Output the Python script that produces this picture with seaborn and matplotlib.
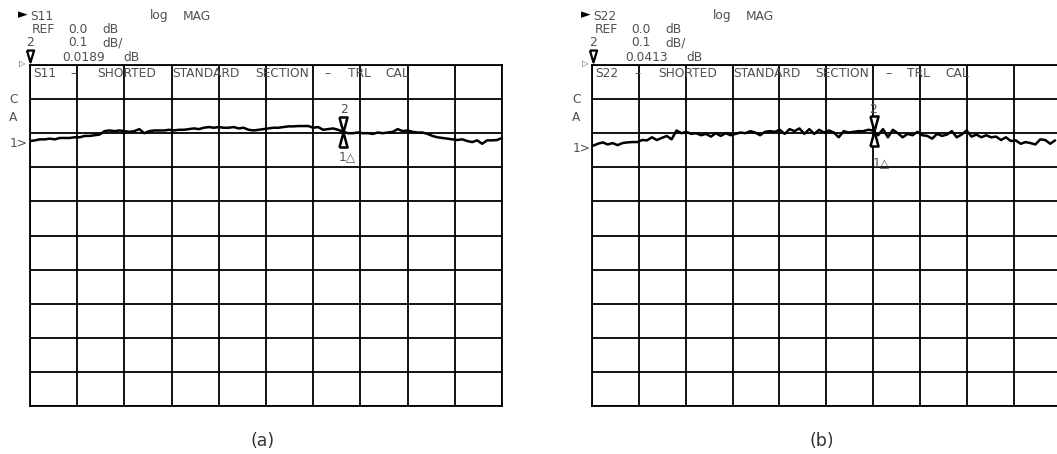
import numpy as np
import pandas as pd
import matplotlib
matplotlib.use("Agg")
import matplotlib.pyplot as plt
from matplotlib.lines import Line2D
import seaborn as sns

# ---------------- data ----------------
# S11 trace, dB, sampled uniformly across the 10-division sweep
s11_db = [
    -0.023, -0.021, -0.018, -0.018, -0.016, -0.018, -0.014, -0.014, -0.014, -0.012,
    -0.012, -0.008, -0.008, -0.006, -0.004,
    0.006, 0.008, 0.006, 0.008, 0.006, 0.004, 0.006, 0.012, 0.000, 0.006,
    0.008, 0.008, 0.008, 0.010, 0.008, 0.010,
    0.010, 0.012, 0.014, 0.012, 0.016, 0.018, 0.016, 0.018, 0.016, 0.016,
    0.018, 0.014, 0.016, 0.010, 0.008, 0.010,
    0.012, 0.014, 0.016, 0.016, 0.018, 0.020, 0.020, 0.021, 0.021, 0.021,
    0.016, 0.018, 0.010, 0.012, 0.014, 0.010,
    0.004, 0.000, 0.000, 0.002, 0.000, 0.000, -0.002, 0.002, 0.000, 0.002,
    0.004, 0.012, 0.006, 0.008, 0.004, 0.002,
    0.002, -0.002, -0.008, -0.012, -0.014, -0.016, -0.018, -0.020, -0.018, -0.023,
    -0.026, -0.021, -0.031, -0.021, -0.021, -0.020,
    -0.014,
]
# S22 trace, dB
s22_db = [
    -0.037, -0.031, -0.027, -0.033, -0.029, -0.035, -0.029, -0.027, -0.026, -0.026,
    -0.020, -0.021, -0.012, -0.020, -0.014, -0.008, -0.018, 0.008, 0.000, 0.004,
    -0.002, 0.000, -0.006, -0.002, -0.010, 0.000, -0.008, 0.000, -0.006, -0.002,
    0.002,
    0.000, 0.006, 0.002, -0.006, 0.004, 0.006, 0.004, 0.010, -0.002, 0.012,
    0.006, 0.014, -0.002, 0.012, -0.002, 0.010, 0.002, 0.008, 0.002, -0.012,
    0.006, 0.002, 0.004, 0.006, 0.006, 0.010, 0.008, -0.006, 0.012, -0.012,
    0.010,
    0.000, -0.012, -0.002, -0.006, 0.004, -0.006, -0.008, -0.016, -0.002, -0.008,
    -0.004, 0.006, -0.012, -0.004, 0.008, -0.010, -0.004, -0.012, -0.006, -0.012,
    -0.010, -0.020, -0.012, -0.023, -0.021, -0.031, -0.026, -0.029, -0.033, -0.018,
    -0.020, -0.031, -0.021,
]
sweep_span_a = (0.0, 10.0)     # divisions covered by the S11 samples
sweep_span_b = (0.02, 9.88)    # divisions covered by the S22 samples
grid_db = [-0.8, -0.7, -0.6, -0.5, -0.4, -0.3, -0.2, -0.1, 0.0, 0.1, 0.2]
grid_div = list(range(11))
marker_div_a = 6.64
marker_div_b = 6.01

# ---------------- style ----------------
sns.set_theme(style="white")
plt.rcParams['font.family'] = ['DejaVu Sans']

W, H = 1057, 454
fig = plt.figure(figsize=(W / 100, H / 100), dpi=100)
fig.patch.set_facecolor('white')


def fx(x):
    return x / W


def fy(y):
    return 1 - y / H


TXT = '#505050'
FS = 8.8

down_tri = [(-0.27, 1.0), (0.27, 1.0), (0.0, 0.0), (-0.27, 1.0)]
up_tri = [(-0.27, -1.0), (0.27, -1.0), (0.0, 0.0), (-0.27, -1.0)]
hdr_tri = [(-0.3, 0.5), (0.3, 0.5), (0.0, -0.5), (-0.3, 0.5)]


def make_panel(rect, values, span, mdiv):
    ax = fig.add_axes(rect)
    ax.set_facecolor('white')
    x = np.linspace(span[0], span[1], len(values))
    df = pd.DataFrame({'div': x, 'dB': values})
    sns.lineplot(data=df, x='div', y='dB', ax=ax, color='black', lw=1.8,
                 zorder=3)
    ax.set_xlim(0, 10)
    ax.set_ylim(-0.8, 0.2)
    ax.set_xticks(grid_div)
    ax.set_yticks(grid_db)
    ax.tick_params(length=0, labelbottom=False, labelleft=False)
    ax.grid(True, color='black', lw=1.3)
    ax.set_xlabel('')
    ax.set_ylabel('')
    for s in ax.spines.values():
        s.set_color('black')
        s.set_linewidth(1.3)
    my = np.interp(mdiv, df['div'], df['dB'])
    ax.plot([mdiv], [my], marker=down_tri, ms=21.6, mfc='white', mec='black',
            mew=1.8, ls='none', zorder=5, clip_on=False)
    ax.plot([mdiv], [my], marker=up_tri, ms=21.6, mfc='white', mec='black',
            mew=1.8, ls='none', zorder=5, clip_on=False)
    return ax


ax_a = make_panel([30 / W, 1 - 406 / H, 472 / W, 341 / H], s11_db,
                  sweep_span_a, marker_div_a)
ax_b = make_panel([592 / W, 1 - 406 / H, 468.7 / W, 341 / H], s22_db,
                  sweep_span_b, marker_div_b)


def t(x, y, s, fs=FS, color=TXT, **kw):
    fig.text(fx(x), fy(y), s, ha='left', va='baseline', fontsize=fs,
             color=color, **kw)


def header(dx, trace, val, ref_y):
    # dx = horizontal offset of the panel block
    fig.text(fx(18 + dx), fy(15), '►', ha='left', va='center', fontsize=9,
             color='black')
    t(30 + dx, 19.7, trace)
    t(150 + dx, 19.5, 'log')
    t(183 + dx, 19.5, 'MAG')
    t(32 + dx, 33.3, 'REF')
    t(68 + dx, 33.3, '0.0')
    t(102 + dx, 33.3, 'dB')
    t(26 + dx, 46, '2')
    t(68 + dx, 46, '0.1')
    t(102 + dx, 46, 'dB/')
    t(62 + dx, 60.7, val)
    t(123 + dx, 60.7, 'dB')
    fig.add_artist(Line2D([fx(29.5 + dx)], [fy(56)], marker=hdr_tri, ms=8.6,
                          mfc='white', mec='black', mew=1.6, ls='none',
                          transform=fig.transFigure))
    fig.text(fx(19 + dx), fy(63.5), '▷', ha='left', va='center', fontsize=6,
             color=TXT)
    t(9 + dx, 103.3, 'C')
    t(9 + dx, 120.7, 'A')
    t(10 + dx, ref_y, '1>')


header(0, 'S11', '0.0189', 147.3)
header(563, 'S22', '0.0413', 151.7)

# title rows inside the top grid row
words_a = [('S11', 33), ('–', 70), ('SHORTED', 97), ('STANDARD', 172),
           ('SECTION', 255), ('–', 324), ('TRL', 348), ('CAL', 385)]
words_b = [('S22', 595), ('–', 634), ('SHORTED', 658), ('STANDARD', 733),
           ('SECTION', 815), ('–', 885), ('TRL', 907), ('CAL', 945)]
for w, x in words_a + words_b:
    t(x, 77.3, w)

# marker labels
t(340, 113.3, '2')
t(339, 160, '1△')
t(869, 113.3, '2')
t(873, 166.7, '1△')

# panel captions
fig.text(fx(263), fy(441), '(a)', ha='center', va='center', fontsize=12.5,
         color='#333333')
fig.text(fx(822), fy(441), '(b)', ha='center', va='center', fontsize=12.5,
         color='#333333')

fig.savefig('out.png', dpi=100, facecolor='white')
